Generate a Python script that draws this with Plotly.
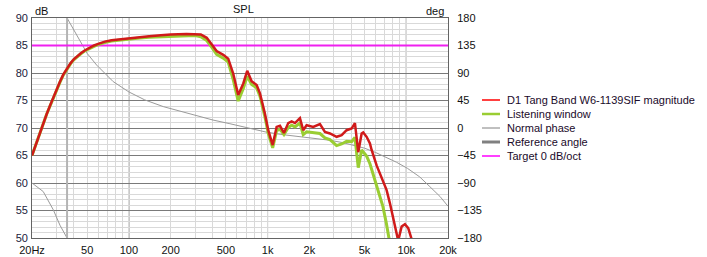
import plotly.graph_objects as go

# ---------------- data ----------------
mag_freq = [20, 21.3, 22.8, 24.1, 25.5, 27, 28.5, 30, 31.8, 33.6, 35.6, 38, 40, 42.5, 45, 48, 52, 56,
            60, 67, 75, 87, 100, 120, 140, 170, 200, 260, 300, 330,
            364, 395, 429, 479, 520, 565, 614, 668, 713, 767, 834, 881, 930, 957, 1011, 1088, 1162,
            1228, 1312, 1409, 1491, 1575, 1711, 1807, 1912, 2134, 2385, 2592, 2816, 3146, 3420, 3715,
            4037, 4265, 4506, 4767, 4894, 5177, 5471, 5626, 6113, 6640, 7218, 7624, 8053, 8421, 8750,
            9262, 9778, 10332, 10930, 11500]
mag_db = [65.0, 67.0, 69.0, 70.8, 72.5, 74.1, 75.6, 77.0, 78.4, 79.7, 80.8, 81.8, 82.5, 83.1, 83.6,
          84.1, 84.6, 85.0, 85.3, 85.7, 85.95, 86.15, 86.35, 86.55, 86.7, 86.85, 87.0,
          87.1, 87.1, 87.0, 86.4, 85.2, 84.0, 83.3, 82.6, 79.9, 76.0, 78.1, 80.4, 78.5, 77.8, 76.3,
          74.0, 72.6, 69.6, 66.9, 70.2, 70.4, 69.1, 70.9, 71.2, 70.9, 71.8, 69.6, 70.5, 70.2, 70.7,
          69.3, 69.0, 68.4, 68.7, 69.6, 69.9, 70.9, 65.6, 69.0, 69.2, 68.4, 67.2, 66.0, 63.2, 60.9,
          58.7, 56.3, 53.3, 50.9, 49.5, 52.1, 52.5, 51.8, 50.0, 48.0]

lw_freq = [20, 21.3, 22.8, 24.1, 25.5, 27, 28.5, 30, 31.8, 33.6, 35.6, 38, 40, 42.5, 45, 48, 52, 56,
           60, 67, 75, 87, 100, 120, 140, 170, 200, 260, 300, 330,
           364, 395, 429, 479, 520, 565, 614, 668, 713, 767, 834, 881, 930, 957, 1011, 1088, 1162,
           1228, 1312, 1409, 1491, 1575, 1711, 1807, 1912, 2134, 2385, 2592, 2816, 3146, 3420, 3715,
           4037, 4265, 4506, 4767, 4894, 5177, 5471, 5943, 6350, 6790, 7180, 7500, 8000]
lw_db = [65.0, 67.0, 69.0, 70.8, 72.5, 74.0, 75.5, 76.9, 78.3, 79.6, 80.7, 81.7, 82.4, 83.0, 83.5,
         84.0, 84.5, 84.85, 85.15, 85.55, 85.8, 86.0, 86.2, 86.35, 86.5, 86.6, 86.7,
         86.8, 86.8, 86.6, 85.9, 84.7, 83.4, 82.7, 82.0, 78.8, 74.9, 77.2, 79.4, 77.9, 77.3, 75.8,
         73.4, 72.0, 69.0, 66.4, 69.5, 69.8, 68.8, 70.1, 70.5, 70.2, 70.9, 68.8, 69.3, 69.1, 69.0,
         68.2, 67.9, 66.8, 67.1, 67.6, 67.5, 68.3, 62.8, 66.0, 65.7, 64.9, 63.5, 60.5, 58.1, 55.7,
         52.7, 50.0, 46.0]

phase_freq = [20, 22, 24.1, 28.5, 31.8, 35.8, None, 35.8, 40, 44.4, 50, 58.5, 76.9, 100, 130, 177,
              240, 308, 404, 535, 632, 750, 990, 1300, 1700, 2200, 2800, 3500, 4400, 5000, 6000,
              7000, 8500, 10200, 12500, 14800, 17500, 20000]
phase_deg = [-90, -97, -104, -134, -159, -180, None, 180, 161, 141, 122, 103, 76, 59, 46, 35,
             27, 21, 13, 7, 3, -1, -7, -11, -14, -17, -20, -24, -29, -33, -40,
             -47, -56, -66, -80, -96, -112, -128]

ref_angle_freq = [35.8, 35.8]
ref_angle_deg = [-180, 180]

target_freq = [20, 20000]
target_db = [85, 85]

x_tickvals = [20, 50, 100, 200, 500, 1000, 2000, 5000, 10000, 20000]
x_ticktext = ["20Hz", "50", "100", "200", "500", "1k", "2k", "5k", "10k", "20k"]
decades = [100, 1000, 10000]
minor_x = [k * 10 ** d for d in range(1, 5) for k in range(2, 10)
           if 20 <= k * 10 ** d <= 20000 and k * 10 ** d not in x_tickvals]

db_ticks = [50, 55, 60, 65, 70, 75, 80, 85, 90]
deg_ticks = [-180, -135, -90, -45, 0, 45, 90, 135, 180]

legend_names = ["D1 Tang Band W6-1139SIF magnitude", "Listening window", "Normal phase",
                "Reference angle", "Target 0 dB/oct"]
legend_colors = ["#ff0000", "#9acd32", "#808080", "#808080", "#ff00ff"]
legend_widths = [1.5, 2.5, 1, 3, 1.5]

# ---------------- figure ----------------
FONT = "Liberation Sans, Arial, sans-serif"
RED = "#d01a1a"
GREEN = "#9acd32"
MAGENTA = "#f020f0"
MINOR = "#d9d9d9"
MAJOR = "#7a7a7a"

fig = go.Figure()
fig.add_trace(go.Scatter(x=phase_freq, y=phase_deg, mode="lines", xaxis="x", yaxis="y",
                         line=dict(color="#9a9a9a", width=1), connectgaps=False,
                         name="Normal phase", showlegend=False))
fig.add_trace(go.Scatter(x=ref_angle_freq, y=ref_angle_deg, mode="lines", xaxis="x", yaxis="y",
                         line=dict(color="#b4b4b4", width=2), name="Reference angle",
                         showlegend=False))
fig.add_trace(go.Scatter(x=target_freq, y=target_db, mode="lines", xaxis="x", yaxis="y2",
                         line=dict(color=MAGENTA, width=2), name="Target 0 dB/oct",
                         showlegend=False))
fig.add_trace(go.Scatter(x=lw_freq, y=lw_db, mode="lines", xaxis="x", yaxis="y2",
                         line=dict(color=GREEN, width=3), name="Listening window",
                         showlegend=False))
fig.add_trace(go.Scatter(x=mag_freq, y=mag_db, mode="lines", xaxis="x", yaxis="y2",
                         line=dict(color=RED, width=2.5), name=legend_names[0],
                         showlegend=False))

W, H = 707, 257
L, R, T, B = 32, 259, 18, 19
pw, ph = W - L - R, H - T - B

def px2x(px):
    return (px - L) / pw

def py2y(py):
    return (H - B - py) / ph

fig.update_layout(
    width=W, height=H,
    margin=dict(l=L, r=R, t=T, b=B, pad=0, autoexpand=False),
    paper_bgcolor="white", plot_bgcolor="white",
    font=dict(family=FONT, size=11, color="#111111"),
    showlegend=False,
    xaxis=dict(type="log", range=[1.30103, 4.30103], tickvals=x_tickvals, ticktext=x_ticktext,
               showgrid=True, gridcolor=MINOR, gridwidth=1, ticks="", zeroline=False,
               showline=True, mirror=True, linecolor="#646464", linewidth=1, automargin=False,
               minor=dict(tickvals=minor_x, showgrid=True, gridcolor=MINOR, gridwidth=1, ticks=""),
               tickfont=dict(size=11, color="#111111"), ticklabelstandoff=2),
    yaxis=dict(range=[-180, 180], tickvals=deg_ticks, side="right", showgrid=False,
               zeroline=False, ticks="", showline=True, mirror=True, linecolor="#646464",
               automargin=False,
               tickfont=dict(size=11, color="#111111"), ticklabelstandoff=6),
    yaxis2=dict(range=[50, 90], tickvals=db_ticks, side="left", overlaying="y",
                showgrid=True, gridcolor=MAJOR, gridwidth=1, zeroline=False, ticks="",
                automargin=False,
                minor=dict(dtick=1, showgrid=True, gridcolor=MINOR, gridwidth=1, ticks=""),
                tickfont=dict(size=11, color="#1a1a3a"), ticklabelstandoff=3),
)

shapes = []
for d in decades:
    shapes.append(dict(type="line", xref="x", yref="paper", x0=d, x1=d, y0=0, y1=1,
                       line=dict(color=MAJOR, width=1), layer="between"))
annotations = [
    dict(text="dB", xref="paper", yref="paper", x=px2x(33), y=py2y(11), xanchor="left",
         yanchor="middle", showarrow=False, font=dict(size=11, color="#111111")),
    dict(text="SPL", xref="paper", yref="paper", x=px2x(243), y=py2y(9), xanchor="center",
         yanchor="middle", showarrow=False, font=dict(size=11, color="#111111")),
    dict(text="deg", xref="paper", yref="paper", x=px2x(446), y=py2y(11), xanchor="right",
         yanchor="middle", showarrow=False, font=dict(size=11, color="#111111")),
]
for i, (name, col, w) in enumerate(zip(legend_names, legend_colors, legend_widths)):
    yy = py2y(100 + 14 * i)
    shapes.append(dict(type="line", xref="paper", yref="paper", x0=px2x(482), x1=px2x(500),
                       y0=yy, y1=yy, line=dict(color=col, width=w)))
    annotations.append(dict(text=name, xref="paper", yref="paper", x=px2x(505), y=yy,
                            xanchor="left", yanchor="middle", showarrow=False,
                            font=dict(size=11, color="#1a0a2a")))
fig.update_layout(shapes=shapes, annotations=annotations)

fig.write_html("out.html")
